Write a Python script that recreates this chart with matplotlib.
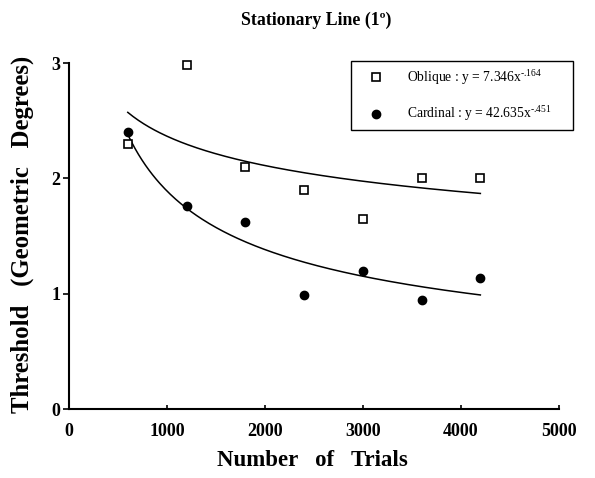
import numpy as np
import matplotlib.pyplot as plt

trials = [600, 1200, 1800, 2400, 3000, 3600, 4200]
oblique = [2.30, 2.98, 2.10, 1.90, 1.65, 2.00, 2.00]
cardinal = [2.40, 1.76, 1.62, 0.99, 1.20, 0.95, 1.14]

# power fit coefficients given in the legend: y = a * x^b
obl_a, obl_b = 7.346, -0.164
card_a, card_b = 42.635, -0.451

plt.rcParams['font.family'] = ['Liberation Serif', 'DejaVu Serif']
plt.rcParams['mathtext.fontset'] = 'custom'
plt.rcParams['mathtext.rm'] = 'Liberation Serif'
plt.rcParams['mathtext.it'] = 'Liberation Serif'

fig = plt.figure(figsize=(5.95, 4.78), dpi=100)
ax = fig.add_axes([0.116, 0.144, 0.823, 0.724])

xs = np.linspace(trials[0], trials[-1], 200)
ax.plot(xs, obl_a * xs ** obl_b, color='black', lw=1.1)
ax.plot(xs, card_a * xs ** card_b, color='black', lw=1.1)

ax.plot(trials, oblique, 's', ms=5.5, mfc='white', mec='black', mew=1.2,
        linestyle='none', clip_on=False,
        label=r'Oblique : y = 7.346x$^{\text{-.164}}$')
ax.plot(trials, cardinal, 'o', ms=6, color='black',
        linestyle='none', clip_on=False,
        label=r'Cardinal : y = 42.635x$^{\text{-.451}}$')

ax.set_xlim(0, 5000)
ax.set_ylim(0, 3)
ax.set_xticks([0, 1000, 2000, 3000, 4000, 5000])
ax.set_yticks([0, 1, 2, 3])
for lab in ax.get_xticklabels() + ax.get_yticklabels():
    lab.set_fontweight('bold')
    lab.set_fontsize(13)
ax.tick_params(axis='x', direction='in', length=3, width=1.2, pad=10)
ax.tick_params(axis='y', direction='out', length=4, width=1.2, pad=2)

ax.spines['top'].set_visible(False)
ax.spines['right'].set_visible(False)
ax.spines['left'].set_linewidth(1.5)
ax.spines['bottom'].set_linewidth(1.5)

leg = ax.legend(loc='upper left', bbox_to_anchor=(351 / 595, 1 - 132 / 478, 222 / 595, 71 / 478),
                bbox_transform=fig.transFigure, mode='expand', fancybox=False,
                edgecolor='black', framealpha=1, fontsize=9.8, handletextpad=0.95,
                handlelength=2.7, labelspacing=1.3, borderpad=0.5, borderaxespad=0)
leg.get_frame().set_linewidth(1.0)

fig.text(0.531, 0.958, 'Stationary Line (1º)', ha='center', va='center',
         fontsize=12.8, fontweight='bold')
fig.text(0.525, 0.036, 'Number   of   Trials', ha='center', va='center',
         fontsize=16.5, fontweight='bold')
fig.text(0.037, 0.51, 'Threshold   (Geometric   Degrees)', ha='center', va='center',
         rotation=90, fontsize=17.8, fontweight='bold')

plt.savefig('out.png', dpi=100)
